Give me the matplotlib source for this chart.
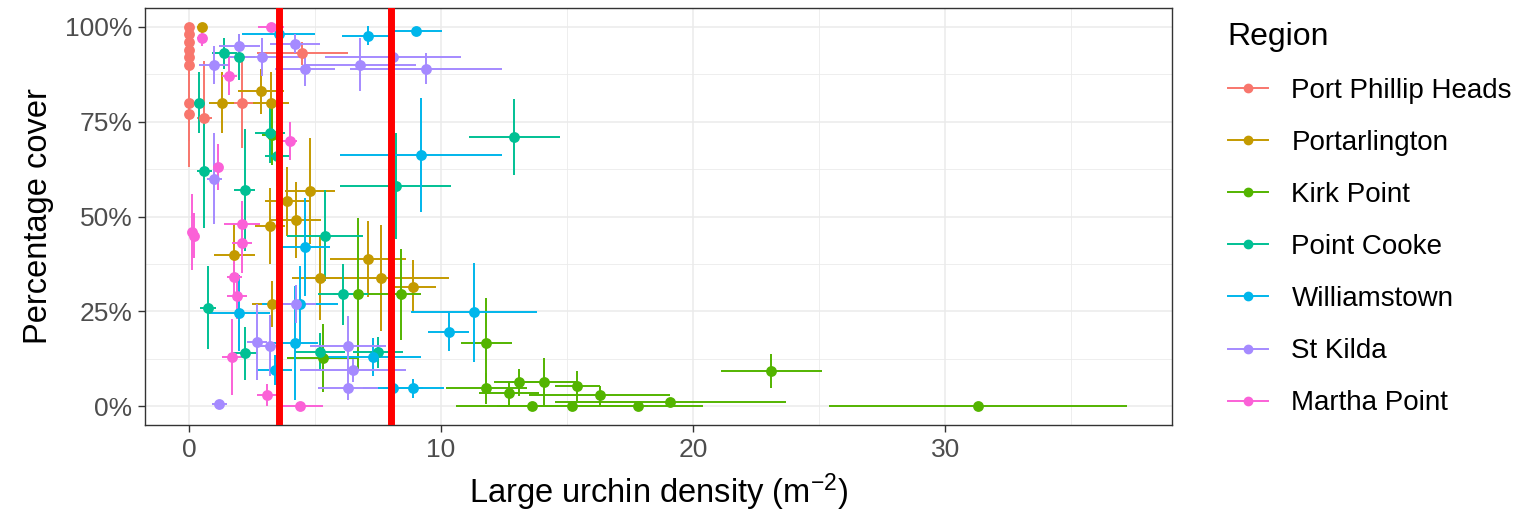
import matplotlib
matplotlib.use("Agg")
import matplotlib.pyplot as plt
from matplotlib.lines import Line2D
from matplotlib.ticker import FuncFormatter, MultipleLocator

plt.rcParams['font.family'] = ['Liberation Sans', 'DejaVu Sans']
plt.rcParams['mathtext.default'] = 'regular'

regions = ["Port Phillip Heads", "Portarlington", "Kirk Point", "Point Cooke",
           "Williamstown", "St Kilda", "Martha Point"]
colors = ["#F8766D", "#C49A00", "#53B400", "#00C094", "#00B6EB", "#A58AFF", "#FB61D7"]

# density (x), cover % (y), symmetric errors
pph_x = [0, 0, 0, 0, 0, 0, 0, 0, 0.6, 2.1, 4.5]
pph_y = [100, 98, 96, 94, 92, 90, 80, 77, 76, 80, 93]
pph_xe = [0, 0, 0, 0, 0, 0, 0, 0, 0.3, 0.55, 1.8]
pph_ye = [1, 2, 2, 2, 2, 3, 10, 14, 15, 12, 3]

por_x = [0.5, 1.3, 2.85, 3.25, 3.2, 1.8, 3.9, 4.25, 4.8, 7.1, 7.6, 5.2, 8.9, 3.3]
por_y = [100, 80, 83, 80, 47.5, 40, 54, 49, 56.7, 38.8, 33.8, 33.7, 31.5, 27]
por_xe = [0.2, 0.5, 0.9, 0.7, 0.6, 0.8, 0.9, 1.0, 1.0, 1.5, 2.7, 1.1, 0.9, 0.8]
por_ye = [1, 8, 6, 8, 10, 8, 9, 10, 14, 10, 14, 11, 7, 6]

kir_x = [11.8, 11.8, 12.7, 13.1, 13.6, 14.1, 15.2, 15.4, 16.3, 17.8, 19.1, 23.1, 31.3,
         6.7, 8.4, 5.3, 3.3]
kir_y = [16.6, 4.7, 3.4, 6.3, 0, 6.3, 0, 5.3, 2.9, 0, 1.1, 9.3, 0,
         29.5, 29.5, 12.7, 71.5]
kir_xe = [1.0, 1.6, 1.2, 1.0, 3.0, 1.3, 3.0, 0.9, 2.8, 2.6, 4.6, 2.0, 5.9,
          1.0, 0.8, 1.4, 0.4]
kir_ye = [12, 4, 3, 3.5, 0.5, 6.5, 0.5, 4, 2.5, 0.5, 1, 4.6, 0.5,
          20, 12, 9, 8]

pco_x = [12.9, 8.2, 0.4, 0.6, 0.75, 2.2, 2.2, 1.4, 2.0, 3.2, 3.5, 5.4, 6.1, 5.2, 7.5]
pco_y = [71, 58, 80, 62, 26, 57, 14, 93, 92, 72, 66, 45, 29.5, 14.2, 14.2]
pco_xe = [1.8, 2.2, 0.2, 0.3, 0.3, 0.4, 0.5, 0.5, 0.6, 0.6, 0.5, 1.5, 1.0, 1.0, 1.0]
pco_ye = [10, 14, 8, 15, 11, 16, 7, 4, 6, 8, 8, 12, 8, 5, 4]

wil_x = [9.0, 7.1, 3.55, 9.2, 11.3, 10.3, 8.1, 8.9, 4.6, 4.2, 7.3, 2.0, 3.4, 4.4]
wil_y = [99, 97.6, 98, 66.2, 24.8, 19.5, 4.7, 4.7, 42, 16.7, 13, 24.6, 9.5, 27]
wil_xe = [1.05, 1.05, 1.45, 3.2, 2.5, 0.8, 1.2, 1.2, 1.0, 0.9, 1.9, 1.2, 0.7, 1.5]
wil_ye = [1, 2.5, 2, 15, 13, 5, 2.5, 2.5, 13, 15, 5, 10, 4, 10]

stk_x = [1.0, 2.0, 2.9, 4.2, 4.6, 6.8, 8.1, 9.4, 1.0, 1.2, 2.7, 3.2, 4.25, 6.3, 6.3, 6.5]
stk_y = [90, 95, 92, 95.5, 89, 90, 92, 89, 60, 0.5, 17, 16, 27, 15.8, 4.7, 9.5]
stk_xe = [0.6, 0.8, 1.5, 1.0, 1.2, 2.2, 2.7, 3.0, 0.3, 0.3, 0.4, 0.5, 0.8, 1.5, 1.2, 2.1]
stk_ye = [5, 3, 5, 2.5, 4.5, 7, 2, 4, 12, 0.5, 10, 8, 5, 8, 3, 3]

mar_x = [3.25, 0.5, 1.6, 1.15, 0.1, 0.2, 2.1, 2.1, 1.8, 1.9, 1.7, 4.0, 3.1, 4.4]
mar_y = [100, 97, 87, 63, 46, 45, 48, 43, 34, 29, 13, 70, 3, 0]
mar_xe = [0.5, 0.2, 0.3, 0.2, 0.1, 0.1, 0.7, 0.4, 0.3, 0.4, 0.4, 0.3, 0.4, 0.9]
mar_ye = [1, 2, 5, 6, 10, 6, 6, 8, 6, 6, 10, 5, 3, 0.5]

xs = [pph_x, por_x, kir_x, pco_x, wil_x, stk_x, mar_x]
ys = [pph_y, por_y, kir_y, pco_y, wil_y, stk_y, mar_y]
xes = [pph_xe, por_xe, kir_xe, pco_xe, wil_xe, stk_xe, mar_xe]
yes = [pph_ye, por_ye, kir_ye, pco_ye, wil_ye, stk_ye, mar_ye]

thresholds = [3.55, 8.0]

fig = plt.figure(figsize=(15.34, 5.25), dpi=100)
ax = fig.add_axes([0.0945, 0.19, 0.6695, 0.795])

for x, y, xe, ye, c in zip(xs, ys, xes, yes, colors):
    ax.errorbar(x, [v / 100 for v in y], xerr=xe, yerr=[v / 100 for v in ye],
                fmt='none', ecolor=c, elinewidth=1.4, capsize=0, zorder=2)
for x, y, c in zip(xs, ys, colors):
    ax.plot(x, [v / 100 for v in y], 'o', color=c, markersize=7.8,
            markeredgewidth=0, zorder=3)
for t in thresholds:
    ax.axvline(t, color='#FF0000', linewidth=5, zorder=4)

ax.set_xlim(-1.75, 39.0)
ax.set_ylim(-0.05, 1.05)
ax.xaxis.set_major_locator(MultipleLocator(10))
ax.xaxis.set_minor_locator(MultipleLocator(5))
ax.yaxis.set_major_locator(MultipleLocator(0.25))
ax.yaxis.set_minor_locator(MultipleLocator(0.125))
ax.yaxis.set_major_formatter(FuncFormatter(lambda v, p: f"{v * 100:.0f}%"))
ax.grid(which='major', color='#EBEBEB', linewidth=1.1, zorder=0)
ax.grid(which='minor', color='#EBEBEB', linewidth=0.6, zorder=0)
ax.set_axisbelow(True)
for s in ax.spines.values():
    s.set_color('#333333')
    s.set_linewidth(1.0)
ax.tick_params(which='major', length=5, color='#333333', labelcolor='#4D4D4D',
               labelsize=19, width=1, pad=4)
ax.tick_params(which='minor', length=0)

ax.set_xlabel('Large urchin density (m$^{-2}$)', fontsize=23.5, color='black', labelpad=7)
ax.set_ylabel('Percentage cover', fontsize=23.5, color='black', labelpad=8)

handles = [Line2D([0], [0], color=c, marker='o', markersize=6, linewidth=1.4)
           for c in colors]
leg = fig.legend(handles, regions, title='Region', loc='upper left',
                 bbox_to_anchor=(0.793, 0.98), frameon=False, fontsize=20,
                 title_fontsize=23, handlelength=1.45, labelspacing=0.94,
                 handletextpad=0.85, borderaxespad=0)
leg._legend_box.align = 'left'

fig.savefig('out.png', dpi=100)
